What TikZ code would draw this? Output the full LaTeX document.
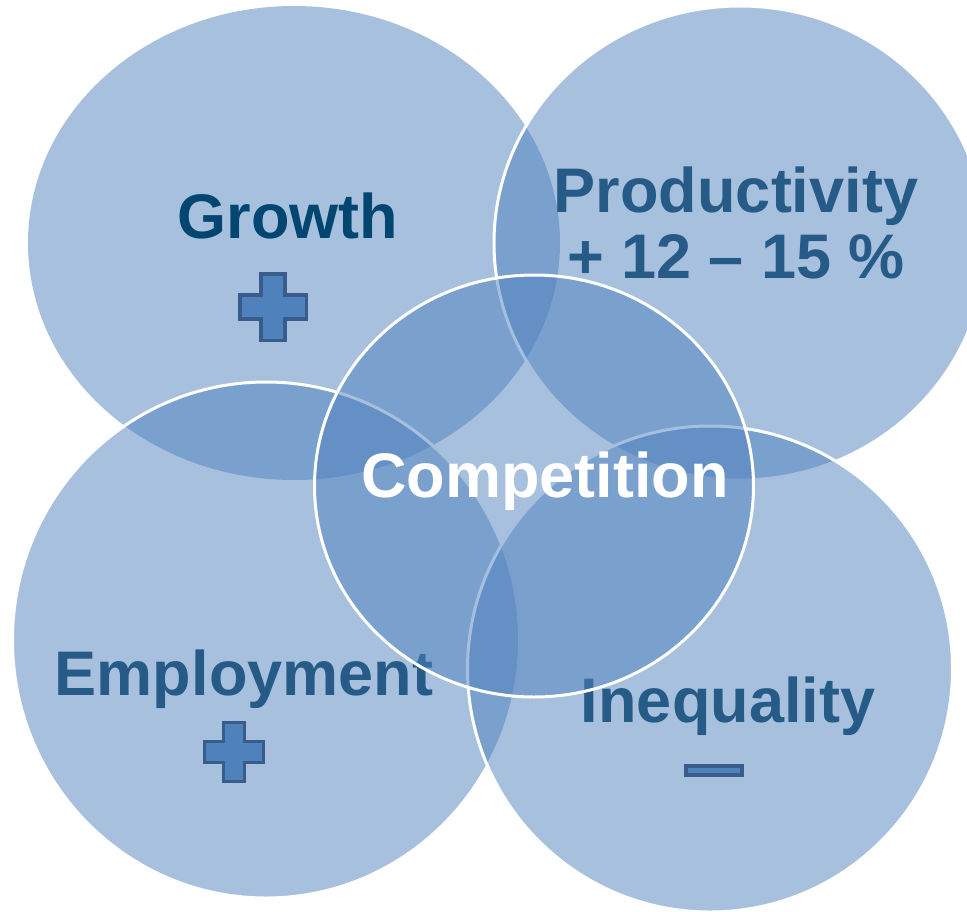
\documentclass[tikz,border=0pt]{standalone}
\usepackage{fontspec}
\setmainfont{Liberation Sans}
\usetikzlibrary{shapes.geometric,positioning}
\definecolor{venn}{HTML}{4F81BD}
\definecolor{textblue}{HTML}{265A87}
\definecolor{textdark}{HTML}{004670}
\definecolor{signfill}{HTML}{4F81BD}
\definecolor{signline}{HTML}{385D8A}
\newcommand{\plussign}[2]{\draw[sign,shift={(#1)},scale=#2] (-0.18,-0.5) -- (0.18,-0.5) -- (0.18,-0.18) -- (0.5,-0.18) -- (0.5,0.18) -- (0.18,0.18) -- (0.18,0.5) -- (-0.18,0.5) -- (-0.18,0.18) -- (-0.5,0.18) -- (-0.5,-0.18) -- (-0.18,-0.18) -- cycle;}

\begin{document}
\begin{tikzpicture}[x=1pt,y=-1pt,bubble/.style={ellipse,inner sep=0pt,outer sep=0pt,fill=venn,fill opacity=0.5,draw=white,line width=3pt},lbl/.style={font=\fontsize{63}{66}\selectfont\bfseries,text=textblue,inner sep=0pt,anchor=base},sign/.style={fill=signfill,draw=signline,line width=3.5pt}]
    \useasboundingbox (0,0) rectangle (967,911);
    \clip (0,0) rectangle (967,911);
    \node[bubble,draw=none,minimum width=532pt,minimum height=474pt](growth) at (294,243) {};
    \node[lbl,text=textdark](growthlbl) at (288,238) {Growth};
    \plussign{273,307}{66.5}
    \node[bubble,minimum width=492pt,minimum height=474pt](prod) at (740,243) {};
    \node[lbl](prodname) at (736,212) {Productivity};
    \node[lbl](prodrate) at ([yshift=-66pt]prodname.base) {+ 12 -- 15 \%};
    \node[bubble,minimum width=507pt,minimum height=516pt](employ) at (266,640) {};
    \node[lbl](employlbl) at (244,695) {Employment};
    \plussign{234,752}{59}
    \node[bubble,minimum width=485pt,minimum height=486pt](ineq) at (710,669) {};
    \node[lbl](ineqlbl) at (728,722) {Inequality};
    \draw[sign] (686,766) rectangle (742,775);
    \node[bubble,minimum width=439pt,minimum height=422pt](comp) at (534,486) {};
    \node[lbl,text=white](complbl) at (545,497) {Competition};
\end{tikzpicture}
\end{document}
